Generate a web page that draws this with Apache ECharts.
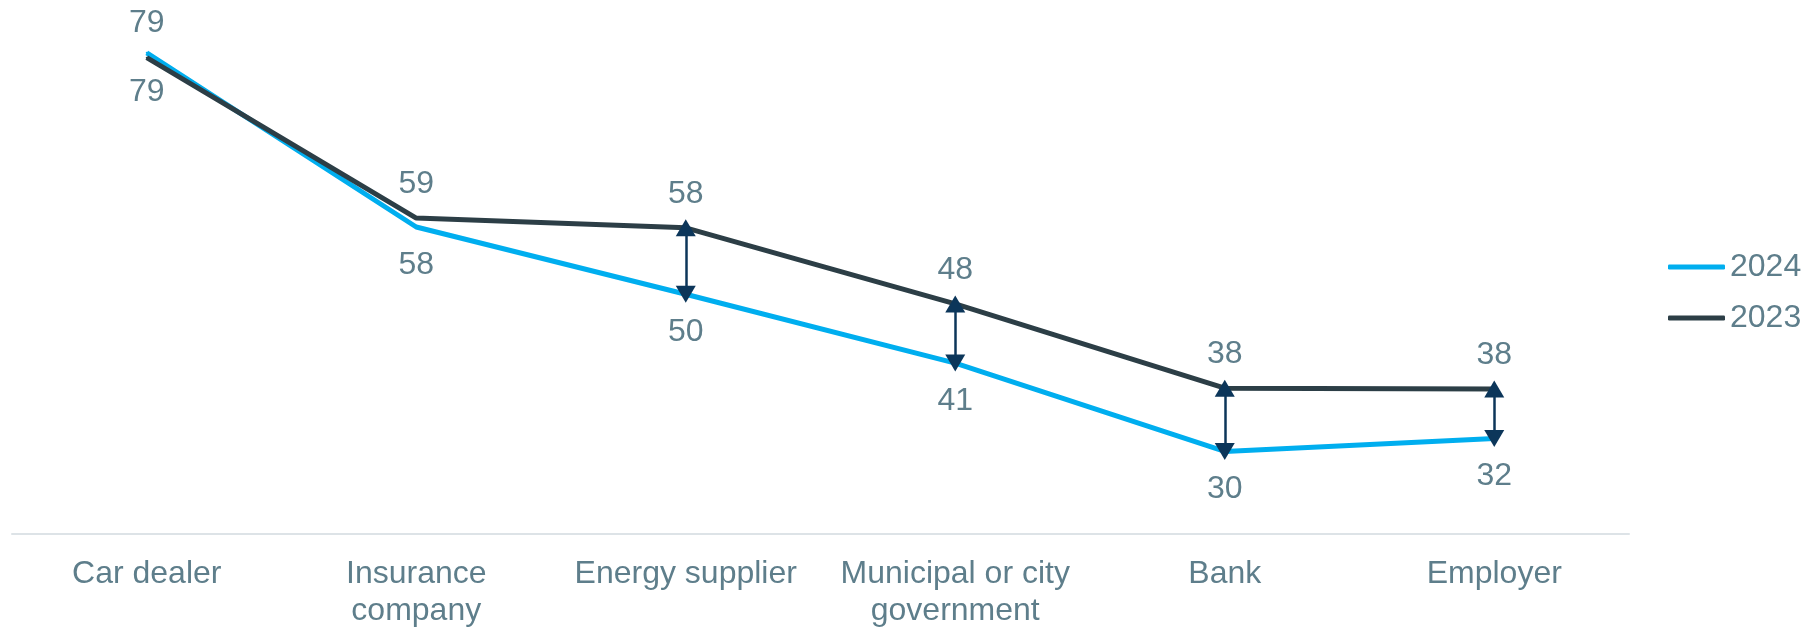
<!DOCTYPE html>
<html>
<head>
<meta charset="utf-8">
<script src="https://cdn.jsdelivr.net/npm/echarts@6/dist/echarts.min.js"></script>
<style>
  html, body { margin: 0; padding: 0; background: #ffffff; }
  #chart { width: 1805px; height: 630px; }
</style>
</head>
<body>
<div id="chart"></div>
<script>
const categories = ['Car dealer', 'Insurance company', 'Energy supplier', 'Municipal or city government', 'Bank', 'Employer'];
const values2024 = [79.4, 57.9, 49.6, 41.1, 30.2, 31.8];
const values2023 = [78.8, 59.0, 57.8, 48.4, 38.0, 37.9];
const seriesNames = ['2024', '2023'];
const arrowCategories = [2, 3, 4, 5];

const FONT = "'Liberation Sans', Arial, sans-serif";
const FONT_SIZE = 32;
const LABEL_COLOR = '#5e7e8b';

const ctx = document.createElement('canvas').getContext('2d');
ctx.font = FONT_SIZE + 'px ' + FONT;
function wrap(text, maxWidth) {
  const words = text.split(' ');
  const lines = [];
  let cur = '';
  words.forEach(w => {
    const test = cur ? cur + ' ' + w : w;
    if (cur && ctx.measureText(test).width > maxWidth) {
      lines.push(cur);
      cur = w;
    } else {
      cur = test;
    }
  });
  if (cur) lines.push(cur);
  return lines.join('\n');
}

const chart = echarts.init(document.getElementById('chart'), null, { renderer: 'canvas' });

function labelled(values, firstPos, otherPos) {
  return values.map((v, i) => {
    const pos = i === 0 ? firstPos : otherPos;
    let dist = pos === 'top' ? 17 : 21;
    if (i === 0) dist -= 4;
    return { value: v, label: { position: pos, distance: dist } };
  });
}

const arrowData = arrowCategories.map(i => [
  { coord: [categories[i], values2023[i]] },
  { coord: [categories[i], values2024[i]] }
]);

const dataLabel = {
  show: true,
  fontFamily: FONT,
  fontSize: FONT_SIZE,
  lineHeight: FONT_SIZE,
  color: LABEL_COLOR,
  formatter: p => Math.round(p.value)
};

chart.setOption({
  animation: false,
  grid: { left: 12, right: 176, top: 48, bottom: 95, containLabel: false },
  legend: {
    orient: 'vertical',
    left: 1663,
    top: 246,
    icon: 'roundRect',
    itemWidth: 57,
    itemHeight: 5,
    itemGap: 19,
    data: seriesNames,
    textStyle: { fontFamily: FONT, fontSize: FONT_SIZE, lineHeight: FONT_SIZE, color: LABEL_COLOR }
  },
  xAxis: {
    type: 'category',
    data: categories,
    boundaryGap: true,
    axisLine: { show: true, lineStyle: { color: '#dde3e7', width: 2 } },
    axisTick: { show: false },
    splitLine: { show: false },
    axisLabel: {
      interval: 0,
      margin: 22,
      fontFamily: FONT,
      fontSize: FONT_SIZE,
      lineHeight: 37,
      color: LABEL_COLOR,
      formatter: v => wrap(v, 240)
    }
  },
  yAxis: {
    type: 'value',
    min: 20,
    max: 80,
    show: false,
    splitLine: { show: false }
  },
  series: [
    {
      name: seriesNames[0],
      type: 'line',
      data: labelled(values2024, 'top', 'bottom'),
      symbol: 'circle',
      symbolSize: 2,
      showSymbol: true,
      color: '#00aeef',
      itemStyle: { color: '#00aeef' },
      lineStyle: { color: '#00aeef', width: 5 },
      label: dataLabel,
      z: 2
    },
    {
      name: seriesNames[1],
      type: 'line',
      data: labelled(values2023, 'bottom', 'top'),
      symbol: 'circle',
      symbolSize: 2,
      showSymbol: true,
      color: '#2c3e46',
      itemStyle: { color: '#2c3e46' },
      lineStyle: { color: '#2c3e46', width: 5 },
      label: dataLabel,
      z: 3,
      markLine: {
        silent: true,
        animation: false,
        symbol: ['triangle', 'triangle'],
        symbolSize: [20, 17],
        label: { show: false },
        lineStyle: { color: '#0c365a', width: 2.5, type: 'solid' },
        emphasis: { disabled: true },
        data: arrowData
      }
    }
  ]
});
</script>
</body>
</html>
